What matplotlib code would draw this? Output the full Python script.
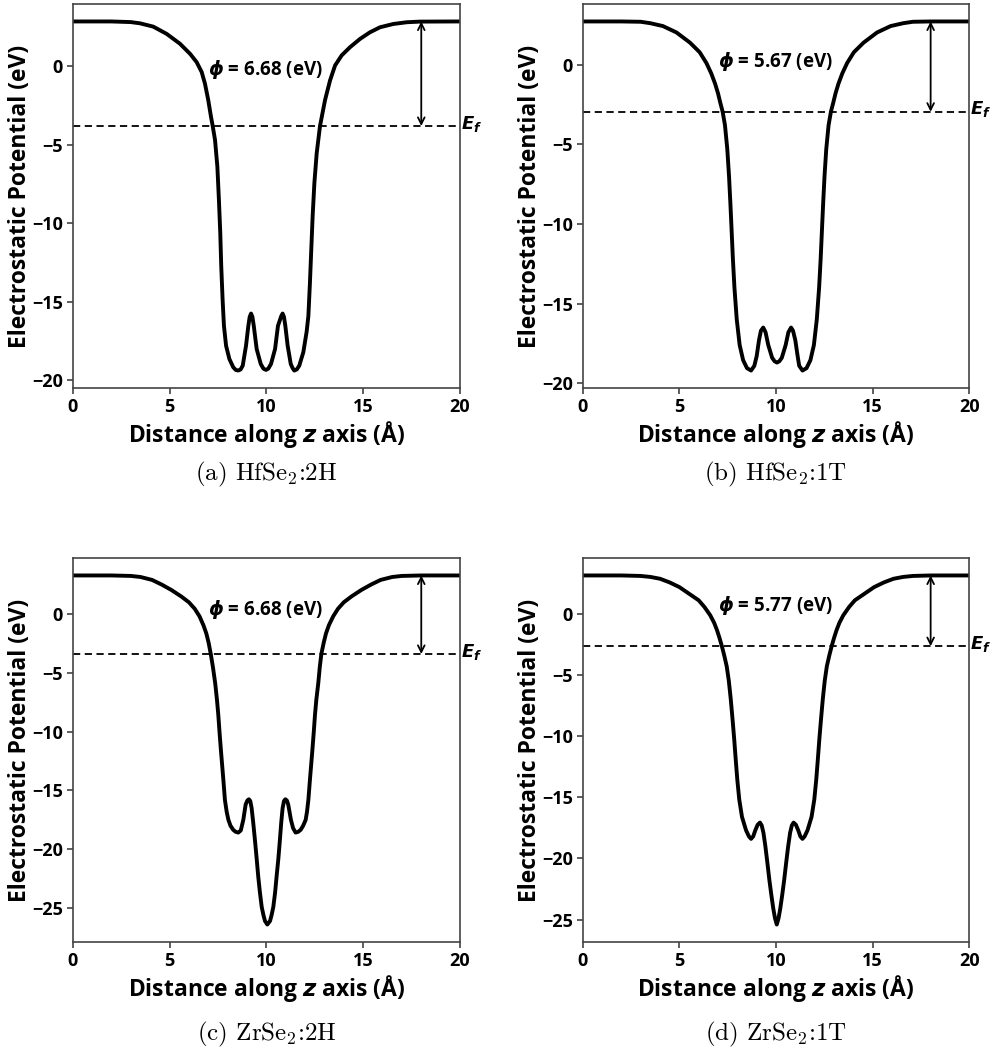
import matplotlib
matplotlib.use("Agg")
import matplotlib.pyplot as plt

plt.rcParams['font.family'] = ['Open Sans', 'DejaVu Sans']
plt.rcParams['font.weight'] = 'bold'
plt.rcParams['mathtext.fontset'] = 'custom'
plt.rcParams['mathtext.rm'] = 'Open Sans:bold'
plt.rcParams['mathtext.bf'] = 'Open Sans:bold'
plt.rcParams['mathtext.it'] = 'Open Sans:bold:italic'
plt.rcParams['mathtext.bfit'] = 'DejaVu Sans:bold:italic'

# (a) HfSe2:2H
x_a = [0, 2, 3, 3.48, 4.16, 4.85, 5.54, 6.06, 6.40, 6.66, 6.83, 7.0, 7.14, 7.23, 7.35,
       7.47, 7.55, 7.62, 7.67, 7.74, 7.81, 7.92, 8.09, 8.29, 8.42, 8.55, 8.67, 8.78,
       8.95, 9.07, 9.14, 9.21, 9.28, 9.35, 9.5, 9.71, 9.85, 9.98, 10.1, 10.24, 10.45,
       10.6, 10.77, 10.84, 10.91, 10.98, 11.1, 11.26, 11.35, 11.44, 11.57, 11.7, 11.91,
       12.08, 12.17, 12.25, 12.32, 12.39, 12.48, 12.6, 12.77, 13.03, 13.29, 13.55, 13.89,
       14.32, 14.84, 15.35, 15.87, 16.56, 17.25, 17.93, 20]
y_a = [2.86, 2.86, 2.82, 2.74, 2.53, 2.07, 1.44, 0.80, 0.27, -0.36, -1.10, -2.15, -3.2,
       -3.8, -4.69, -6.38, -8.49, -10.6, -12.7, -14.83, -16.52, -17.79, -18.63, -19.16,
       -19.33, -19.37, -19.3, -19.06, -17.79, -16.52, -15.95, -15.74, -15.95, -16.52,
       -18.0, -18.95, -19.25, -19.33, -19.25, -18.95, -18.0, -16.52, -15.9, -15.74,
       -15.95, -16.52, -17.79, -18.95, -19.2, -19.37, -19.3, -19.06, -18.2, -16.9, -15.9,
       -13.8, -11.66, -9.55, -7.43, -5.53, -3.8, -2.15, -0.89, 0.06, 0.70, 1.22, 1.75,
       2.17, 2.49, 2.7, 2.81, 2.85, 2.86]

# (b) HfSe2:1T
x_b = [0, 2, 3, 3.5, 4.15, 4.85, 5.55, 6.05, 6.4, 6.65, 6.85, 7.0, 7.12, 7.24, 7.36,
       7.48, 7.57, 7.64, 7.7, 7.77, 7.85, 7.97, 8.12, 8.3, 8.5, 8.71, 8.88, 9.0, 9.12,
       9.22, 9.34, 9.46, 9.6, 9.8, 9.93, 10.05, 10.17, 10.3, 10.5, 10.64, 10.78, 10.88,
       11.0, 11.12, 11.2, 11.37, 11.58, 11.78, 11.96, 12.11, 12.23, 12.31, 12.38, 12.44,
       12.51, 12.6, 12.72, 12.84, 12.96, 13.08, 13.23, 13.43, 13.68, 14.03, 14.53, 15.23,
       15.93, 16.58, 17.08, 18, 20]
y_b = [2.71, 2.71, 2.69, 2.6, 2.42, 2.02, 1.38, 0.78, 0.1, -0.55, -1.2, -1.8, -2.4,
       -2.96, -3.8, -5.3, -7.0, -8.7, -10.3, -12.2, -14.0, -16.0, -17.6, -18.55, -19.05,
       -19.2, -18.9, -18.3, -17.3, -16.7, -16.5, -16.8, -17.6, -18.4, -18.62, -18.7,
       -18.62, -18.4, -17.6, -16.8, -16.5, -16.7, -17.3, -18.3, -18.9, -19.2, -19.05,
       -18.55, -17.6, -16.0, -14.0, -12.2, -10.3, -8.7, -7.0, -5.3, -3.8, -2.96, -2.4,
       -1.8, -1.2, -0.55, 0.1, 0.78, 1.38, 2.02, 2.42, 2.6, 2.69, 2.71, 2.71]

# (c) ZrSe2:2H
x_c = [0, 2, 3, 3.5, 4.1, 4.6, 5.1, 5.6, 6.0, 6.3, 6.55, 6.75, 6.9, 7.02, 7.13, 7.24,
       7.36, 7.45, 7.52, 7.58, 7.65, 7.72, 7.78, 7.86, 7.95, 8.04, 8.15, 8.29, 8.42, 8.55,
       8.68, 8.81, 8.93, 9.02, 9.1, 9.17, 9.24, 9.32, 9.41, 9.5, 9.58, 9.67, 9.76, 9.85,
       9.93, 10.05, 10.19, 10.27, 10.36, 10.45, 10.53, 10.62, 10.7, 10.77, 10.84, 10.91,
       10.98, 11.06, 11.13, 11.27, 11.38, 11.51, 11.64, 11.77, 11.9, 12.03, 12.1, 12.17,
       12.25, 12.31, 12.38, 12.45, 12.51, 12.58, 12.68, 12.76, 12.84, 12.96, 13.08, 13.23,
       13.45, 13.7, 14.0, 14.4, 14.9, 15.4, 15.9, 16.5, 17.0, 18, 20]
y_c = [3.28, 3.28, 3.24, 3.15, 2.9, 2.5, 2.04, 1.5, 1.0, 0.45, -0.2, -0.95, -1.65,
       -2.45, -3.4, -4.5, -5.9, -7.3, -8.6, -10.0, -11.5, -12.9, -14.1, -15.8, -16.8,
       -17.5, -18.0, -18.35, -18.52, -18.58, -18.4, -17.5, -16.2, -15.85, -15.75, -15.9,
       -16.5, -17.7, -19.2, -20.8, -22.3, -23.7, -24.9, -25.6, -26.1, -26.4, -26.1,
       -25.6, -24.9, -23.7, -22.3, -20.8, -19.2, -17.7, -16.5, -15.9, -15.75, -15.85,
       -16.2, -17.5, -18.2, -18.58, -18.52, -18.35, -18.0, -17.5, -16.8, -15.8, -14.1,
       -12.9, -11.5, -10.0, -8.6, -7.3, -5.9, -4.5, -3.4, -2.45, -1.65, -0.95, -0.2,
       0.45, 1.0, 1.5, 2.04, 2.5, 2.9, 3.15, 3.24, 3.28, 3.28]

# (d) ZrSe2:1T
x_d = [0, 2, 3, 3.5, 4.0, 4.5, 5.0, 5.5, 6.0, 6.3, 6.6, 6.8, 6.95, 7.08, 7.2, 7.32,
       7.45, 7.56, 7.66, 7.75, 7.84, 7.92, 8.0, 8.1, 8.24, 8.45, 8.6, 8.71, 8.82, 8.93,
       9.05, 9.17, 9.26, 9.35, 9.45, 9.55, 9.66, 9.76, 9.86, 9.95, 10.04, 10.13, 10.22,
       10.32, 10.42, 10.53, 10.63, 10.73, 10.82, 10.91, 11.03, 11.15, 11.26, 11.37, 11.48,
       11.63, 11.84, 11.98, 12.08, 12.16, 12.24, 12.33, 12.42, 12.52, 12.63, 12.76, 12.88,
       13.0, 13.13, 13.28, 13.48, 13.78, 14.08, 14.58, 15.08, 15.58, 16.08, 16.58, 17.08,
       18, 20]
y_d = [3.12, 3.12, 3.08, 3.0, 2.85, 2.55, 2.17, 1.63, 1.09, 0.54, -0.14, -0.75, -1.36,
       -2.0, -2.66, -3.4, -4.3, -5.5, -7.0, -8.6, -10.3, -12.0, -13.6, -15.2, -16.6,
       -17.7, -18.2, -18.4, -18.2, -17.7, -17.25, -17.07, -17.3, -17.9, -19.0, -20.3,
       -21.8, -23.0, -24.1, -24.9, -25.4, -24.9, -24.1, -23.0, -21.8, -20.3, -19.0,
       -17.9, -17.3, -17.07, -17.25, -17.7, -18.2, -18.4, -18.2, -17.7, -16.6, -15.2,
       -13.6, -12.0, -10.3, -8.6, -7.0, -5.5, -4.3, -3.4, -2.66, -2.0, -1.36, -0.75,
       -0.14, 0.54, 1.09, 1.63, 2.17, 2.55, 2.85, 3.0, 3.08, 3.12, 3.12]

vacuum = [2.86, 2.71, 3.28, 3.12]
fermi = [-3.80, -2.96, -3.40, -2.66]
phi_vals = ["6.68", "5.67", "6.68", "5.77"]
captions = [r"(a) HfSe$_2$:2H", r"(b) HfSe$_2$:1T", r"(c) ZrSe$_2$:2H", r"(d) ZrSe$_2$:1T"]
xs = [x_a, x_b, x_c, x_d]
ys = [y_a, y_b, y_c, y_d]
phi_y = [-0.25, 0.15, 0.35, 0.65]

W, H = 992, 1053
fig = plt.figure(figsize=(W / 100, H / 100), dpi=100)

# axes boxes in pixels: left, top, right, bottom
boxes = [(72.7, 4, 460, 388), (582.7, 4, 969.3, 388),
         (72.7, 558, 460, 942), (582.7, 558, 969.3, 942)]
caption_y = [474, 1034]

for i in range(4):
    l, t, r, b = boxes[i]
    ax = fig.add_axes([l / W, 1 - b / H, (r - l) / W, (b - t) / H])
    ax.plot(xs[i], ys[i], color='black', lw=2.8)
    ax.axhline(fermi[i], color='black', ls='--', lw=1.3, dashes=(4, 2.5))
    ax.annotate('', xy=(18, fermi[i]), xytext=(18, vacuum[i]),
                arrowprops=dict(arrowstyle='<->', color='black', lw=1.3,
                                shrinkA=0, shrinkB=0, mutation_scale=12))
    ax.text(7.0, phi_y[i], r"$\mathbfit{\phi}$ = " + phi_vals[i] + " (eV)",
            fontsize=13.5, fontweight='bold', va='center', ha='left')
    ax.text(20.03, fermi[i] + 0.15, r"$\mathbfit{E_f}$", fontsize=13,
            va='center', ha='left', clip_on=False)
    ax.set_xlim(0, 20)
    ax.set_xticks([0, 5, 10, 15, 20])
    ax.tick_params(labelsize=13, width=1.1, length=4, pad=3, color='#333333')
    for lab in ax.get_xticklabels() + ax.get_yticklabels():
        lab.set_fontweight('bold')
    for sp in ax.spines.values():
        sp.set_color('#444444')
        sp.set_linewidth(1.2)
    ax.set_xlabel(r"Distance along $\mathbfit{z}$ axis (Å)", fontsize=16.5,
                  fontweight='bold')
    ax.set_ylabel("Electrostatic Potential (eV)", fontsize=16.5, fontweight='bold')
    ax.xaxis.set_label_coords(0.5, -0.082)
    ax.yaxis.set_label_coords(-0.105, 0.5)
    fig.text((l + r) / 2 / W, 1 - caption_y[i // 2] / H, captions[i],
             family='cmr10', math_fontfamily='cm', fontweight='normal',
             fontsize=18, ha='center', va='center')

fig.savefig("out.png", dpi=100)
